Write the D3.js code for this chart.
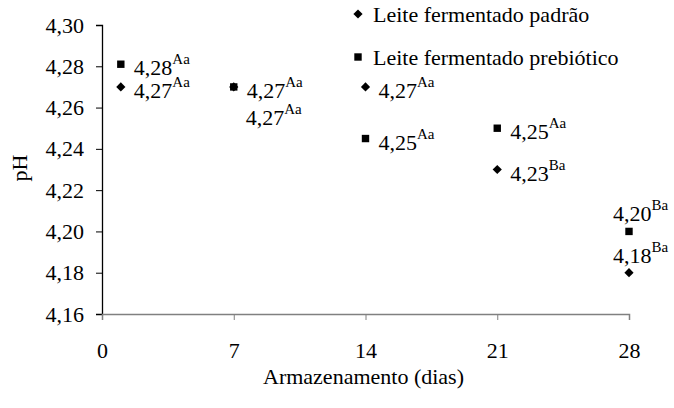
<!DOCTYPE html>
<html>
<head>
<meta charset="utf-8">
<title>pH - Leite fermentado</title>
<script src="https://cdn.jsdelivr.net/npm/d3@7/dist/d3.min.js"></script>
<style>
body{ margin: 0; background: #fff; }
</style>
</head>
<body>
<script>
// dados
var days = [1, 7, 14, 21, 28];
var padrao = [4.27, 4.27, 4.27, 4.23, 4.18];
var prebiotico = [4.281, 4.27, 4.245, 4.25, 4.20];
var padraoText = ["4,27", "4,27", "4,27", "4,23", "4,18"];
var padraoSup = ["Aa", "Aa", "Aa", "Ba", "Ba"];
var prebioticoText = ["4,28", "4,27", "4,25", "4,25", "4,20"];
var prebioticoSup = ["Aa", "Aa", "Aa", "Aa", "Ba"];
var xTicks = [0, 7, 14, 21, 28];
var yTicks = [4.16, 4.18, 4.20, 4.22, 4.24, 4.26, 4.28, 4.30];
var seriesNames = ["Leite fermentado padrão", "Leite fermentado prebiótico"];

const FONT = "Liberation Serif";
const width = 674, height = 408,
  margin = {top: 25, right: 45, bottom: 94, left: 102},
  w = width - margin.left - margin.right,
  h = height - margin.top - margin.bottom;

const svg = d3.select("body").append("svg").attr("width", width).attr("height", height);
const g = svg.append("g").attr("transform", `translate(${margin.left},${margin.top})`);

const x = d3.scaleLinear().domain([0, 28]).range([0, w]);
const y = d3.scaleLinear().domain([4.16, 4.30]).range([h, 0]);
const fmt = v => d3.format(".2f")(v).replace(".", ",");

// eixo y
const yAxisG = g.append("g").call(d3.axisLeft(y).tickValues(yTicks).tickFormat(fmt).tickSize(6).tickPadding(12));
yAxisG.attr("font-family", FONT).attr("font-size", 22);
yAxisG.select(".domain").attr("stroke", "#000").attr("stroke-width", 1.3);
yAxisG.selectAll(".tick line").attr("stroke", "#000");

// eixo x
const xAxisG = g.append("g").attr("transform", `translate(0,${h})`)
  .call(d3.axisBottom(x).tickValues(xTicks).tickSize(6).tickPadding(22));
xAxisG.attr("font-family", FONT).attr("font-size", 22);
xAxisG.select(".domain").attr("stroke", "#808080").attr("stroke-width", 1.5);
xAxisG.selectAll(".tick line").attr("stroke", "#808080");

svg.append("text").attr("text-anchor", "middle")
  .attr("transform", `translate(${margin.left + w / 2 - 2},${384})`)
  .attr("font-family", FONT).attr("font-size", 22).text("Armazenamento (dias)");
svg.append("text").attr("text-anchor", "middle")
  .attr("transform", `translate(27,168) rotate(-90)`)
  .attr("font-family", FONT).attr("font-size", 22).text("pH");

// marcadores
function diamond(r) { return `M0,${-r}L${r},0L0,${r}L${-r},0Z`; }
function square(s) { return `M${-s},${-s}H${s}V${s}H${-s}Z`; }
const shapes = [diamond(4.6), square(3.7)];

const series = [
  {vals: padrao, txt: padraoText, sup: padraoSup},
  {vals: prebiotico, txt: prebioticoText, sup: prebioticoSup}
];

// deslocamento dos rotulos (layout)
function labelOffset(si, i) {
  if (i === 4) return [-16, -10];
  if (si === 1 && i === 1) return [12, 38];
  return [13, 11];
}

series.forEach(function(s, si) {
  g.selectAll(".m" + si).data(days).enter().append("path")
    .attr("class", "m" + si)
    .attr("d", shapes[si])
    .attr("fill", "#000")
    .attr("transform", (d, i) => `translate(${x(d)},${y(s.vals[i])})`);

  const lab = g.selectAll(".l" + si).data(days).enter().append("text")
    .attr("class", "l" + si)
    .attr("x", (d, i) => x(d) + labelOffset(si, i)[0])
    .attr("y", (d, i) => y(s.vals[i]) + labelOffset(si, i)[1])
    .attr("font-family", FONT).attr("font-size", 22);
  lab.append("tspan").text((d, i) => s.txt[i]);
  lab.append("tspan").attr("dy", -11).attr("font-size", 15).text((d, i) => s.sup[i]);
});

// legenda
const leg = svg.append("g").attr("transform", "translate(358,0)");
seriesNames.forEach(function(name, i) {
  const ly = i === 0 ? 14 : 57;
  leg.append("path").attr("d", shapes[i]).attr("fill", "#000").attr("transform", `translate(0,${ly})`);
  leg.append("text").attr("x", 15).attr("y", ly + 8)
    .attr("font-family", FONT).attr("font-size", 22).text(name);
});
</script>
</body>
</html>
